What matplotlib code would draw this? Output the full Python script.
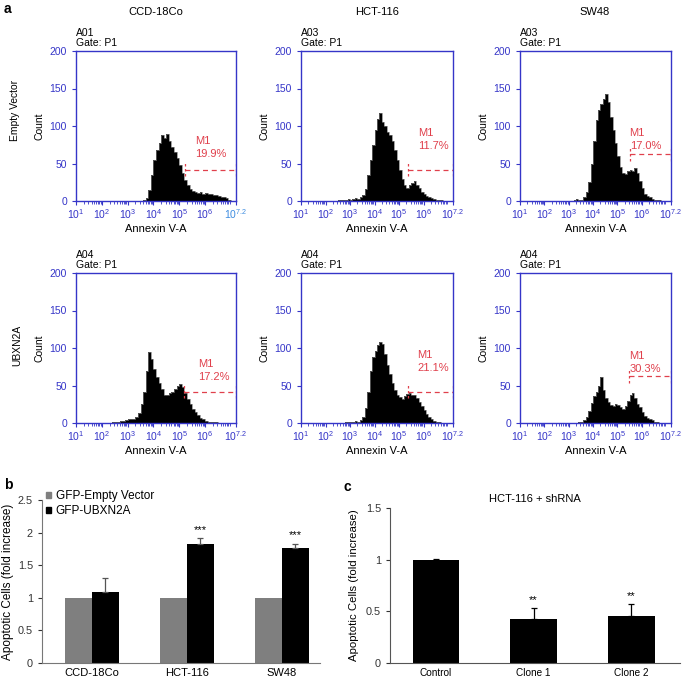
import numpy as np
import matplotlib
matplotlib.use('Agg')
import matplotlib.pyplot as plt
from matplotlib.patches import Patch
from matplotlib.ticker import FixedLocator, LogLocator, NullFormatter

plt.rcParams['font.family'] = ['Liberation Sans', 'DejaVu Sans']
plt.rcParams['mathtext.fontset'] = 'custom'
plt.rcParams['mathtext.rm'] = 'Liberation Sans'
plt.rcParams['mathtext.it'] = 'Liberation Sans'
plt.rcParams['mathtext.bf'] = 'Liberation Sans:bold'

BLUE = '#3535c8'
RED = '#e0404c'

### flow histograms (a): counts per 0.1 decade, first bin edge in log10
cell_lines = ['CCD-18Co', 'HCT-116', 'SW48']
row_names = ['Empty Vector', 'UBXN2A']
sample_ids = ['A01', 'A03', 'A03', 'A04', 'A04', 'A04']
hist_start = [3.5, 2.5, 3.2, 2.4, 2.8, 3.4]
hist_counts = [
    [0, 1, 4, 15, 35, 55, 68, 78, 88, 84, 90, 80, 72, 66, 58, 48, 38, 28, 21, 16,
     14, 12, 11, 12, 10, 11, 9, 10, 8, 8, 7, 6, 5, 4, 2],
    [1, 2, 1, 2, 3, 2, 3, 4, 3, 5, 8, 16, 35, 55, 75, 95, 110, 118, 105, 100,
     92, 88, 80, 68, 55, 42, 30, 22, 18, 22, 24, 27, 22, 17, 12, 9, 7, 5, 4, 3,
     2, 1, 1, 0, 0],
    [1, 3, 1, 2, 5, 12, 25, 50, 80, 108, 122, 130, 136, 143, 132, 112, 95, 78, 60, 45,
     37, 36, 40, 42, 40, 44, 38, 27, 17, 10, 7, 5, 3, 2, 1, 1],
    [1, 1, 2, 3, 3, 4, 5, 5, 6, 8, 14, 25, 42, 70, 95, 85, 72, 62, 54, 46,
     38, 37, 40, 42, 46, 50, 52, 48, 40, 32, 25, 19, 15, 11, 7, 5, 3, 2, 1, 1,
     1, 0],
    [1, 2, 1, 2, 3, 2, 4, 8, 20, 42, 70, 88, 96, 104, 108, 106, 92, 78, 66, 54,
     44, 38, 35, 32, 36, 39, 40, 38, 37, 33, 28, 23, 17, 12, 8, 5, 3, 2, 1, 0],
    [1, 2, 4, 8, 16, 27, 36, 42, 50, 62, 44, 34, 28, 24, 23, 25, 24, 21, 19, 23,
     30, 38, 40, 33, 26, 21, 15, 10, 7, 5, 4, 2, 1, 0],
]
gate_start = [5.23, 5.37, 5.5, 5.2, 5.37, 5.48]
gate_level = [42, 42, 63, 42, 42, 63]
gate_pct = ['19.9%', '11.7%', '17.0%', '17.2%', '21.1%', '30.3%']
gate_text_x = [5.62, 5.78, 5.5, 5.72, 5.74, 5.5]
gate_text_y = [80, 90, 90, 79, 90, 89]

### bar chart (b)
b_groups = ['CCD-18Co', 'HCT-116', 'SW48']
b_empty = [1.0, 1.0, 1.0]
b_ubxn2a = [1.09, 1.82, 1.76]
b_ubxn2a_err = [0.21, 0.09, 0.07]
b_stars = ['', '***', '***']

### bar chart (c)
c_groups = ['Control', 'Clone 1', 'Clone 2']
c_values = [1.0, 0.42, 0.45]
c_err = [0.005, 0.11, 0.12]
c_stars = ['', '**', '**']

W, H = 685, 680
fig = plt.figure(figsize=(W / 100, H / 100), dpi=100)


def box(left, top, width, height):
    return [left / W, 1 - (top + height) / H, width / W, height / H]


col_pos = [(76, 160), (301, 152), (520, 151)]
row_top = [51, 273]

for i in range(6):
    r, c = divmod(i, 3)
    left, width = col_pos[c]
    ax = fig.add_axes(box(left, row_top[r], width, 150))
    counts = hist_counts[i]
    edges = 10 ** (hist_start[i] + 0.1 * np.arange(len(counts) + 1))
    ax.stairs(counts, edges, fill=True, color='black')
    ax.stairs(counts, edges, color='#777777', lw=0.5)
    ax.set_xscale('log')
    ax.set_xlim(10 ** 1, 10 ** 7.2)
    ax.set_ylim(0, 200)
    ax.xaxis.set_major_locator(FixedLocator([10 ** k for k in range(1, 7)] + [10 ** 7.2]))
    ax.set_xticklabels([r'$10^{%d}$' % k for k in range(1, 7)] + [r'$10^{7.2}$'])
    ax.xaxis.set_minor_locator(LogLocator(base=10, subs=np.arange(2, 10), numticks=20))
    ax.xaxis.set_minor_formatter(NullFormatter())
    ax.set_yticks([0, 50, 100, 150, 200])
    for sp in ax.spines.values():
        sp.set_color(BLUE)
        sp.set_linewidth(1)
    ax.tick_params(axis='both', which='major', colors=BLUE, labelsize=7.5, length=3, width=0.8)
    ax.tick_params(axis='x', which='minor', colors=BLUE, length=2, width=0.6)
    ax.tick_params(axis='x', pad=1.5)
    if i == 0:
        ax.get_xticklabels()[-1].set_color('#3d8ce0')
    ax.set_xlabel('Annexin V-A', fontsize=8, labelpad=2)
    ax.set_ylabel('Count', fontsize=7.5, labelpad=4)

    # M1 gate
    g0 = 10 ** gate_start[i]
    g1 = 10 ** 7.19
    lv = gate_level[i]
    ax.hlines(lv, g0, g1, colors=RED, linestyles=(0, (4, 3)), lw=0.9)
    ax.vlines([g0, g1], lv - 9, lv + 9, colors=RED, linestyles=(0, (2, 2)), lw=0.9)
    tx = 10 ** gate_text_x[i]
    ax.text(tx, gate_text_y[i], 'M1', color=RED, fontsize=8, ha='left', va='center')
    ax.text(tx, gate_text_y[i] - 17, gate_pct[i], color=RED, fontsize=8, ha='left', va='center')

    ax.text(0, 1.12, sample_ids[i], transform=ax.transAxes, fontsize=7.5, va='center')
    ax.text(0, 1.05, 'Gate: P1', transform=ax.transAxes, fontsize=7.5, va='center')

# column titles and row names
title_x = [156, 377, 595]
for c in range(3):
    fig.text(title_x[c] / W, 1 - 12 / H, cell_lines[c], fontsize=8, ha='center', va='center')
fig.text(15 / W, 1 - 110 / H, row_names[0], fontsize=7.4, rotation=90, ha='center', va='center')
fig.text(17 / W, 1 - 345 / H, row_names[1], fontsize=7.4, rotation=90, ha='center', va='center')

fig.text(4 / W, 1 - 9 / H, 'a', fontsize=10, fontweight='bold', va='center')
fig.text(4 / W, 1 - 485 / H, 'b', fontsize=10, fontweight='bold', va='center')
fig.text(344 / W, 1 - 487 / H, 'c', fontsize=10, fontweight='bold', va='center')

# panel b
axb = fig.add_axes(box(42, 500, 278, 162.7))
xb = np.arange(len(b_groups))
bw = 0.28
axb.bar(xb - bw / 2, b_empty, bw, color='#7f7f7f')
axb.bar(xb + bw / 2, b_ubxn2a, bw, color='black')
axb.errorbar(xb + bw / 2, b_ubxn2a, yerr=[np.zeros(3), b_ubxn2a_err], fmt='none',
             ecolor='#555555', elinewidth=0.9, capsize=2.5, capthick=0.9)
for x, v, e, s in zip(xb, b_ubxn2a, b_ubxn2a_err, b_stars):
    if s:
        axb.text(x + bw / 2, v + e + 0.05, s, ha='center', va='bottom', fontsize=8)
axb.set_xlim(-0.526, 2.40)
axb.set_ylim(0, 2.5)
axb.set_yticks([0, 0.5, 1, 1.5, 2, 2.5])
axb.set_yticklabels(['0', '0.5', '1', '1.5', '2', '2.5'])
axb.set_xticks(xb)
axb.set_xticklabels(b_groups)
axb.tick_params(axis='x', length=0, pad=4, labelsize=8)
axb.tick_params(axis='y', length=3, width=0.8, labelsize=7.8, colors='#333333')
axb.spines[['top', 'right']].set_visible(False)
for sp in ['left', 'bottom']:
    axb.spines[sp].set_color('#777777')
axb.set_ylabel('Apoptotic Cells (fold increase)', fontsize=8.5, labelpad=3)
axb.legend(handles=[Patch(color='#7f7f7f', label='GFP-Empty Vector'),
                    Patch(color='black', label='GFP-UBXN2A')],
           loc='upper left', bbox_to_anchor=(0.015, 1.06), frameon=False, fontsize=8.5,
           handlelength=0.45, handleheight=0.45, handletextpad=0.35, labelspacing=0.25,
           borderpad=0, borderaxespad=0)

# panel c
axc = fig.add_axes(box(390, 508, 290, 154.7))
xc = np.arange(len(c_groups))
cw = 0.48
axc.bar(xc, c_values, cw, color='black')
axc.errorbar(xc, c_values, yerr=[np.zeros(3), c_err], fmt='none',
             ecolor='black', elinewidth=0.9, capsize=2.5, capthick=0.9)
for x, v, e, s in zip(xc, c_values, c_err, c_stars):
    if s:
        axc.text(x, v + e + 0.03, s, ha='center', va='bottom', fontsize=8)
axc.set_xlim(-0.472, 2.50)
axc.set_ylim(0, 1.5)
axc.set_yticks([0, 0.5, 1, 1.5])
axc.set_yticklabels(['0', '0.5', '1', '1.5'])
axc.set_xticks(xc)
axc.set_xticklabels(c_groups)
axc.tick_params(axis='x', length=0, pad=4, labelsize=7.2)
axc.tick_params(axis='y', length=3, width=0.8, labelsize=7.8, colors='#333333')
axc.spines[['top', 'right']].set_visible(False)
for sp in ['left', 'bottom']:
    axc.spines[sp].set_color('#555555')
axc.set_ylabel('Apoptotic Cells (fold increase)', fontsize=8.2, labelpad=5)
axc.set_title('HCT-116 + shRNA', fontsize=8, pad=4)

fig.savefig('out.png', dpi=100)
